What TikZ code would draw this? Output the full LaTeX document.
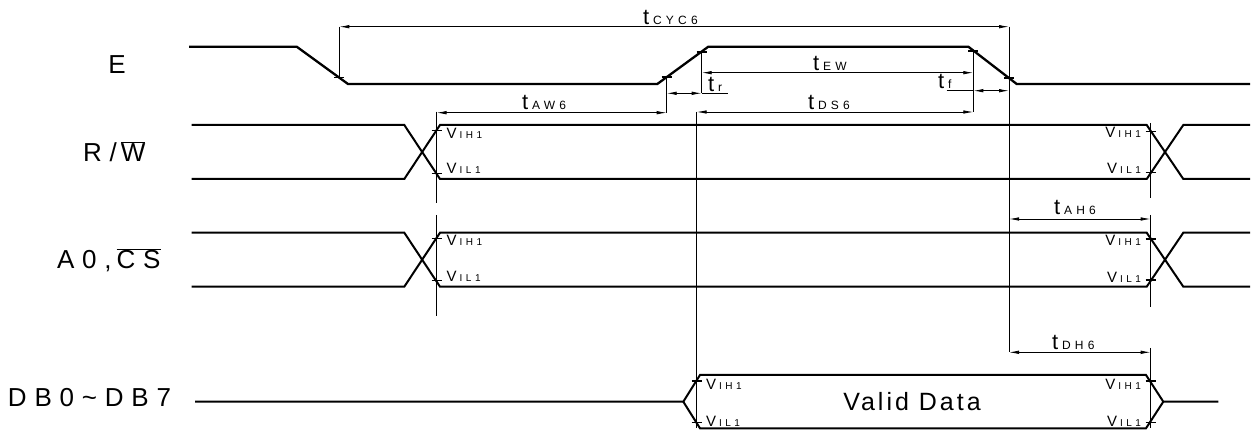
\documentclass[tikz,border=0pt]{standalone}
\usepackage{fontspec}
\setmainfont{Liberation Sans}
\newfontfamily\sigfont[LetterSpace=30]{Liberation Sans}
\newfontfamily\subfont[LetterSpace=35]{Liberation Sans}
\newfontfamily\vdfont[LetterSpace=12]{Liberation Sans}
\usetikzlibrary{arrows.meta}
\newcommand\tmlab[1]{{\fontsize{22}{22}\selectfont t}\hspace{4pt}{\subfont\fontsize{12}{12}\selectfont #1}}
\newcommand\vlab[1]{{\fontsize{15}{15}\selectfont V}\hspace{3pt}{\subfont\fontsize{10}{10}\selectfont #1}}
\begin{document}
\begin{tikzpicture}[x=1pt,y=-1pt,
  sig/.style={line width=2pt, line join=miter},
  esig/.style={line width=2.3pt, line join=miter},
  ext/.style={line width=0.9pt},
  tk/.style={line width=1.5pt},
  dimarr/.style={line width=0.8pt, {Latex[length=10pt,width=3.5pt]}-{Latex[length=10pt,width=3.5pt]}},
  lead/.style={line width=0.8pt},
  lab/.style={inner sep=0pt, outer sep=0pt},
  siglab/.style={lab, font=\sigfont\fontsize{26}{26}\selectfont}]
\useasboundingbox (0,0) rectangle (1251,430);

% ---- signal names
\node[siglab, anchor=center] (lE) at (117,65) {E};
\node[siglab, anchor=west] (lRW) at (83,152) {R/\hspace{4pt}$\overline{\hbox{\sigfont\fontsize{26}{26}\selectfont W}}$};
\node[siglab, anchor=west] (lA) at (57,260) {A0,\hspace{5pt}$\overline{\hbox{\sigfont\fontsize{26}{26}\selectfont CS}}$};
\node[siglab, anchor=west] (lDB) at (8,398) {DB0\textasciitilde DB7};

% ---- E waveform
\draw[esig] (189,46.7) -- (296.7,46.7) -- (348,84) -- (657.3,84) -- (708.3,46.7) -- (968.3,46.7) -- (1016.7,84) -- (1250,84);

% ---- R/W and A0,CS waveforms
\foreach \hi/\lo in {125/179, 232.7/286.7}{
  \draw[sig] (191.7,\hi) -- (404.3,\hi) -- (440,\lo) -- (1146.7,\lo) -- (1183.3,\hi) -- (1250,\hi);
  \draw[sig] (191.7,\lo) -- (404.3,\lo) -- (440,\hi) -- (1146.7,\hi) -- (1183.3,\lo) -- (1250,\lo);
}

% ---- DB waveform
\draw[sig] (195,401.7) -- (683.3,401.7) -- (700,375) -- (1146,375) -- (1163.3,401.7) -- (1218.3,401.7);
\draw[sig] (683.3,401.7) -- (700,428.3) -- (1146,428.3) -- (1163.3,401.7);

% ---- ticks
\foreach \x/\y in {339.3/77.7, 666.7/77.1, 701.7/51.8, 973.3/50.8, 1009/77.8,
                   436.5/130.5, 436.5/173.5, 1150.7/131.5, 1150.7/172.5,
                   436.5/238.5, 436.5/280.5, 1150.7/239, 1150.7/280,
                   696.7/380.8, 696.7/422.5, 1150.7/381.2, 1150.7/422.5}
  \draw[tk] (\x-5,\y) -- (\x+5,\y);

% ---- coordinates for dimension lines
\coordinate (cycL) at (339.3,26.7);
\coordinate (cycR) at (1009,26.7);
\coordinate (fall1) at (339.3,77.7);
\coordinate (awL) at (436.5,112.7);
\coordinate (awR) at (666.7,112.7);
\coordinate (rise10) at (666.7,77.1);
\coordinate (rise90) at (701.7,51.8);
\coordinate (trL) at (666.7,93.3);
\coordinate (trR) at (701.7,93.3);
\coordinate (trEnd) at (728,93.3);
\coordinate (ewL) at (701.7,72.7);
\coordinate (ewR) at (973.3,72.7);
\coordinate (fall90) at (973.3,50.8);
\coordinate (tfL) at (973.3,90.7);
\coordinate (tfR) at (1009,90.7);
\coordinate (tfEnd) at (946.7,90.7);
\coordinate (dsL) at (696.7,112);
\coordinate (dsR) at (973.3,112);
\coordinate (dsBot) at (696.7,428);
\coordinate (ahL) at (1009,219);
\coordinate (ahR) at (1150.7,219);
\coordinate (dhL) at (1009,352.3);
\coordinate (dhR) at (1150.7,352.3);
\coordinate (lv1a) at (436.5,111.7);
\coordinate (lv1b) at (436.5,203.3);
\coordinate (lv2a) at (436.5,215);
\coordinate (lv2b) at (436.5,316);
\coordinate (rv1a) at (1150.7,123);
\coordinate (rv1b) at (1150.7,198);
\coordinate (rv2a) at (1150.7,215);
\coordinate (rv2b) at (1150.7,307);
\coordinate (rv3a) at (1150.7,348);
\coordinate (rv3b) at (1150.7,428);

% ---- extension lines
\draw[ext] (cycL) -- (fall1);
\draw[ext] (cycR) -- (dhL);
\draw[ext] (lv1a) -- (lv1b);
\draw[ext] (lv2a) -- (lv2b);
\draw[ext] (rise10) -- (awR);
\draw[ext] (rise90) -- (trR);
\draw[ext] (dsL) -- (dsBot);
\draw[ext] (fall90) -- (dsR);
\draw[ext] (rv1a) -- (rv1b);
\draw[ext] (rv2a) -- (rv2b);
\draw[ext] (rv3a) -- (rv3b);

% ---- dimension arrows
\draw[dimarr] (cycL) -- (cycR);
\draw[dimarr] (awL) -- (awR);
\draw[dimarr] (trL) -- (trR);
\draw[lead] (trR) -- (trEnd);
\draw[dimarr] (ewL) -- (ewR);
\draw[dimarr] (tfL) -- (tfR);
\draw[lead] (tfEnd) -- (tfL);
\draw[dimarr] (dsL) -- (dsR);
\draw[dimarr] (ahL) -- (ahR);
\draw[dimarr] (dhL) -- (dhR);

% ---- timing labels
\node[lab, anchor=base west] (tcyc) at (643,25) {\tmlab{CYC6}};
\node[lab, anchor=base west] (taw) at (522,110) {\tmlab{AW6}};
\node[lab, anchor=base west] (tew) at (813,70.7) {\tmlab{EW}};
\node[lab, anchor=base west] (tds) at (808,110) {\tmlab{DS6}};
\node[lab, anchor=base west] (ttr) at (708,91.5) {\tmlab{r}};
\node[lab, anchor=base west] (ttf) at (938,89) {\tmlab{f}};
\node[lab, anchor=base west] (tah) at (1054,215) {\tmlab{AH6}};
\node[lab, anchor=base west] (tdh) at (1052,350) {\tmlab{DH6}};

% ---- threshold labels
\node[lab, anchor=base west] (v1) at (446.7,139) {\vlab{IH1}};
\node[lab, anchor=base west] (v2) at (446.7,174) {\vlab{IL1}};
\node[lab, anchor=base west] (v3) at (446.7,245.7) {\vlab{IH1}};
\node[lab, anchor=base west] (v4) at (446.7,282) {\vlab{IL1}};
\node[lab, anchor=base west] (v5) at (706,390) {\vlab{IH1}};
\node[lab, anchor=base west] (v6) at (706,426) {\vlab{IL1}};
\node[lab, anchor=base east] (v7) at (1141,138) {\vlab{IH1}};
\node[lab, anchor=base east] (v8) at (1141,174) {\vlab{IL1}};
\node[lab, anchor=base east] (v9) at (1141,246) {\vlab{IH1}};
\node[lab, anchor=base east] (v10) at (1141,282.7) {\vlab{IL1}};
\node[lab, anchor=base east] (v11) at (1141,390) {\vlab{IH1}};
\node[lab, anchor=base east] (v12) at (1141,426.5) {\vlab{IL1}};

% ---- valid data
\node[lab, anchor=base, font=\vdfont\fontsize{25}{25}\selectfont] (vd) at (912,410.7) {Valid Data};
\end{tikzpicture}
\end{document}
